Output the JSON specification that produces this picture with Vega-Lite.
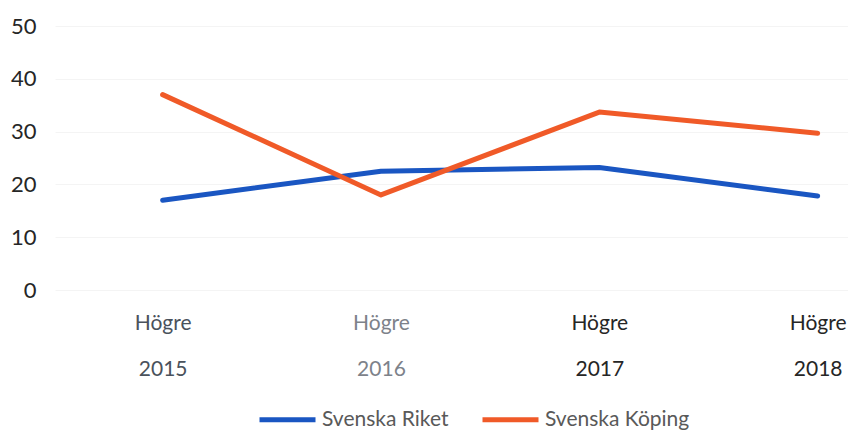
{
  "$schema": "https://vega.github.io/schema/vega-lite/v6.json",
  "autosize": "none",
  "width": 793,
  "height": 264,
  "padding": {"left": 55, "top": 26, "right": 0, "bottom": 140},
  "background": "white",
  "data": {"values": [
    {"year": "2015", "series": "Svenska Riket", "value": 17.0},
    {"year": "2016", "series": "Svenska Riket", "value": 22.5},
    {"year": "2017", "series": "Svenska Riket", "value": 23.2},
    {"year": "2018", "series": "Svenska Riket", "value": 17.8},
    {"year": "2015", "series": "Svenska Köping", "value": 37.0},
    {"year": "2016", "series": "Svenska Köping", "value": 18.0},
    {"year": "2017", "series": "Svenska Köping", "value": 33.7},
    {"year": "2018", "series": "Svenska Köping", "value": 29.7}
  ]},
  "mark": {"type": "line", "strokeWidth": 5, "strokeCap": "round", "strokeJoin": "round"},
  "encoding": {
    "x": {
      "field": "year", "type": "ordinal",
      "scale": {"type": "point", "padding": 0.316, "align": 0.78},
      "axis": {
        "title": null, "domain": false, "ticks": false, "grid": false,
        "labelAngle": 0, "labelFont": "Lato", "labelFontSize": 21,
        "labelExpr": "['Högre', datum.label]",
        "labelLineHeight": 46, "labelBaseline": "top", "labelPadding": 22,
        "labelColor": {"expr": "datum.value == '2016' ? '#7d828a' : datum.value == '2015' ? '#4a525c' : '#262626'"}
      }
    },
    "y": {
      "field": "value", "type": "quantitative",
      "scale": {"domain": [0, 50]},
      "axis": {
        "title": null, "domain": false, "ticks": false, "values": [0, 10, 20, 30, 40, 50],
        "gridColor": "#f4f4f4", "gridWidth": 1,
        "labelFont": "Lato", "labelFontSize": 22, "labelColor": "#262626", "labelPadding": 19
      }
    },
    "color": {
      "field": "series", "type": "nominal",
      "sort": ["Svenska Riket", "Svenska Köping"],
      "scale": {"domain": ["Svenska Riket", "Svenska Köping"], "range": ["#1a56c2", "#f05a28"]},
      "legend": {
        "title": null, "orient": "none", "direction": "horizontal",
        "legendX": 202, "legendY": 363,
        "symbolType": "stroke", "symbolSize": 3136, "symbolStrokeWidth": 5,
        "labelFont": "Lato", "labelFontSize": 21, "labelColor": "#595959",
        "labelOffset": 4, "columnPadding": 23
      }
    }
  },
  "config": {"view": {"stroke": null}}
}
